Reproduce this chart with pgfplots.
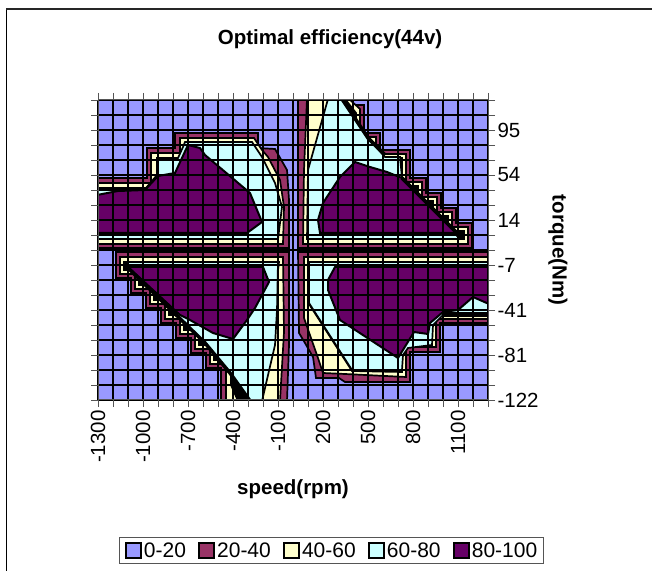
\documentclass[border=0pt]{standalone}
\usepackage{pgfplots}
\pgfplotsset{compat=1.18}
\usepackage{fontspec}
\setmainfont{Liberation Sans}
\definecolor{bA}{HTML}{9999FF}
\definecolor{bB}{HTML}{993366}
\definecolor{bC}{HTML}{FFFFCC}
\definecolor{bD}{HTML}{CCFFFF}
\definecolor{bE}{HTML}{660066}
\definecolor{tk}{HTML}{555555}
% contour outlines (col, row of the plot image), mapped to speed and torque cell
\newcommand\poly[3][1.7bp]{\addplot[forget plot,fill=#2,draw=black,line width=#1,line join=miter]
 table[header=false,row sep=\\,x expr=(\thisrowno{0}-98)*100/15-1300,y expr=(400-\thisrowno{1})/15]{#3} --cycle;}
\newcommand\edge[1]{\addplot[forget plot,draw=black,line width=3.6bp]
 table[header=false,row sep=\\,x expr=(\thisrowno{0}-98)*100/15-1300,y expr=(400-\thisrowno{1})/15]{#1};}
\begin{document}
\begin{tikzpicture}[x=1bp,y=1bp]
\path[use as bounding box] (0,0) rectangle (652,571);
\draw[line width=1bp,black] (6,0) -- (6,562);
\draw[line width=1.2bp,black!85] (6,562) -- (652,562);
\begin{axis}[
 at={(98bp,171bp)},anchor=south west,scale only axis,width=390bp,height=300bp,
 xmin=-1300,xmax=1300,ymin=0,ymax=20,clip=true,
 axis on top,axis background/.style={fill=bA},
 xtick={-1300,-1000,-700,-400,-100,200,500,800,1100},
 xticklabels={-1300,-1000,-700,-400,-100,200,500,800,1100},
 minor xtick={-1200,-1100,-900,-800,-600,-500,-300,-200,0,100,300,400,600,700,900,1000,1200,1300},
 ytick={0,3,6,9,12,15,18},
 yticklabels={-122,-81,-41,-7,14,54,95},
 minor ytick={1,2,4,5,7,8,10,11,13,14,16,17,19,20},
 yticklabel pos=right,ylabel near ticks,
 tick align=outside,major tick length=7bp,minor tick length=7bp,
 every tick/.style={tk,line width=0.9bp},
 axis line style={tk,line width=1bp},
 grid=both,
 major grid style={black,line width=2.8bp},
 minor grid style={black,line width=2.8bp},
 tick label style={font=\fontsize{20.5bp}{24bp}\selectfont},
 xticklabel style={rotate=90,anchor=east,xshift=0bp},
 yticklabel style={anchor=west,xshift=-1bp},
 xlabel={speed(rpm)},
 xlabel style={font=\bfseries\fontsize{20.5bp}{24bp}\selectfont,at={(axis description cs:0.5,-0.297)},anchor=center},
 ylabel={torque(Nm)},
 ylabel style={font=\bfseries\fontsize{20.5bp}{24bp}\selectfont,at={(axis description cs:1.1795,0.5)},anchor=center,rotate=180},
 title={Optimal efficiency(44v)},
 title style={font=\bfseries\fontsize{20.5bp}{24bp}\selectfont,at={(axis description cs:0.595,1.184)},anchor=center},
 legend columns=5,
 legend style={at={(axis description cs:0.5987,-0.5017)},anchor=center,draw=tk,line width=1bp,
   nodes={font=\fontsize{21bp}{24bp}\selectfont,inner xsep=1bp},inner xsep=5bp,inner ysep=3bp,
   /tikz/every even column/.append style={column sep=11bp},
   /tikz/every odd column/.append style={column sep=1bp}},
 legend image code/.code={\draw[#1] (0bp,-7.5bp) rectangle (15bp,7.5bp);},
]
% upper left
\poly{bB}{97 178\\147 178\\147 148\\175 148\\175 133\\258 133\\258 148\\275 149\\287 170\\289 200\\289 248\\97 248\\}
\poly{bC}{97 183\\151 183\\151 153\\180 153\\180 138\\254 138\\262 150\\268 157\\280 180\\284 207\\283 244\\97 244\\}
\poly{bD}{97 188\\146 188\\157 175\\157 158\\178 158\\183 147\\185 142\\252 142\\262 157\\275 183\\282 207\\278 239\\97 239\\}
\poly[2bp]{bE}{97 195\\118 191\\145 190\\158 176\\175 173\\188 145\\200 148\\205 155\\250 193\\262 222\\247 233\\97 233\\}
% upper right
\poly{bB}{298 99\\353 99\\353 105\\364 105\\364 133\\380 133\\380 150\\410 150\\410 178\\426 178\\426 193\\441 193\\441 208\\456 208\\456 223\\472 223\\472 248\\298 248\\}
\poly{bC}{307 99\\349 99\\360 109\\360 137\\376 137\\376 154\\406 154\\406 182\\422 182\\422 197\\437 197\\437 212\\452 212\\452 227\\468 227\\468 244\\303 244\\304 170\\}
\poly{black}{345 99\\356 113\\356 141\\372 141\\372 158\\402 158\\402 186\\418 186\\418 201\\433 201\\433 216\\448 216\\448 231\\464 231\\464 239\\310 239\\330 99\\}
\poly{bD}{328 99\\308 170\\307 239\\460 239\\402 178\\400 157\\385 157\\368 138\\342 99\\}
\poly[2bp]{bE}{355 162\\370 167\\387 172\\402 178\\457 233\\320 233\\318 220\\323 203\\340 177\\}
\edge{342 99\\368 138\\385 155\\}
\edge{402 178\\457 233\\}
% lower left
\poly{bB}{116 252\\289 252\\289 345\\287 401\\221 401\\221 368\\206 368\\206 353\\191 353\\191 338\\176 338\\176 323\\161 323\\161 308\\146 308\\146 293\\131 293\\131 278\\116 278\\}
\poly{bC}{120 257\\283 257\\284 332\\280 401\\226 401\\226 364\\210 364\\210 349\\195 349\\195 334\\180 334\\180 319\\165 319\\165 304\\150 304\\150 289\\135 289\\135 274\\120 274\\}
\poly{black}{124 262\\279 262\\262 401\\238 401\\231 385\\231 360\\214 360\\214 345\\199 345\\199 330\\184 330\\184 315\\169 315\\169 300\\154 300\\154 285\\139 285\\139 270\\124 270\\}
\poly{bD}{128 262\\278 262\\277 310\\275 345\\262 401\\250 401\\230 373\\205 343\\128 268\\}
\poly[2bp]{bE}{128 267\\263 267\\269 282\\255 308\\247 320\\233 339\\213 333\\190 320\\180 315\\}
\edge{128 268\\205 343\\230 373\\250 401\\}
% lower right
\poly{bB}{298 252\\489 252\\489 323\\440 323\\440 352\\410 352\\410 382\\345 382\\339 378\\316 378\\313 357\\305 343\\299 333\\}
\poly{bC}{304 257\\489 257\\489 319\\436 319\\436 347\\406 347\\406 377\\345 374\\323 373\\318 358\\304 318\\}
\poly{black}{308 262\\489 262\\489 316\\432 316\\432 343\\402 343\\402 372\\352 371\\309 304\\}
\poly{bD}{309 262\\489 262\\489 313\\445 313\\433 325\\432 345\\408 348\\403 355\\402 370\\352 370\\309 303\\}
\poly[2bp]{bE}{335 267\\489 267\\489 304\\473 297\\458 310\\443 312\\430 323\\428 334\\414 332\\398 358\\340 320\\328 290\\328 280\\}
\addlegendimage{fill=bA,draw=black,line width=2.2bp}\addlegendentry{0-20}
\addlegendimage{fill=bB,draw=black,line width=2.2bp}\addlegendentry{20-40}
\addlegendimage{fill=bC,draw=black,line width=2.2bp}\addlegendentry{40-60}
\addlegendimage{fill=bD,draw=black,line width=2.2bp}\addlegendentry{60-80}
\addlegendimage{fill=bE,draw=black,line width=2.2bp}\addlegendentry{80-100}
\node[font=\bfseries\fontsize{12bp}{14bp}\selectfont] at (axis description cs:-0.046,0.003) {\%};
\end{axis}
\end{tikzpicture}
\end{document}
